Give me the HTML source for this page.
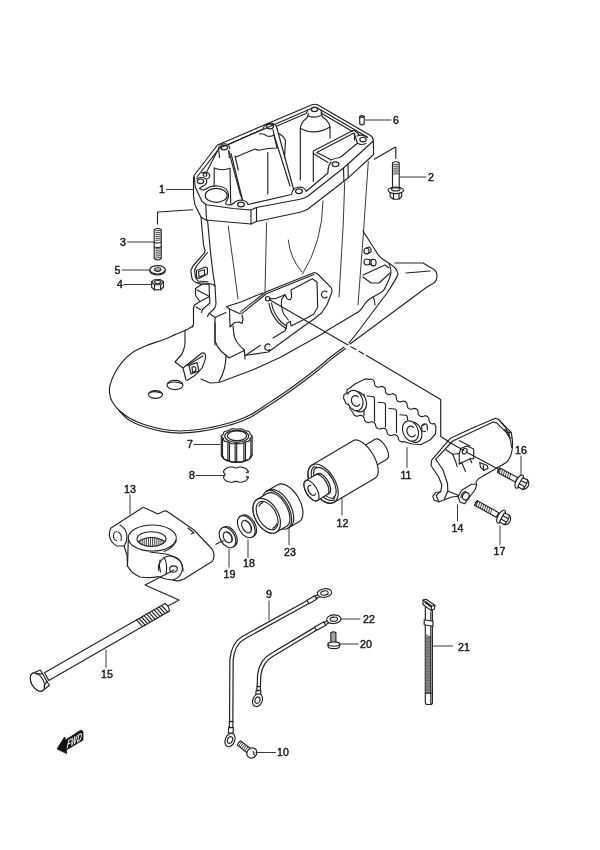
<!DOCTYPE html>
<html><head><meta charset="utf-8"><title>Drive Shaft Housing</title>
<style>
html,body{margin:0;padding:0;background:#fff}
svg{display:block;will-change:transform}
.l{fill:none;stroke:#222;stroke-width:1.15;stroke-linecap:round;stroke-linejoin:round}
.w{fill:#fff;stroke:#222;stroke-width:1.15;stroke-linecap:round;stroke-linejoin:round}
.t{stroke:#222;stroke-width:0.85;fill:none}
text{font-family:"Liberation Sans",sans-serif;font-size:10.6px;fill:#1a1a1a;text-anchor:middle;stroke:#1a1a1a;stroke-width:0.45px}
#labels path{stroke-width:0.9}
.c{stroke-width:0.9}
</style></head><body>
<svg width="600" height="850" viewBox="0 0 600 850">
<rect width="600" height="850" fill="#fff"/>
<g id="longleader">
<path class="l" d="M269.500,299.800 L348,345 M351,346.800 L356,349.600 M359,351.300 L363.500,353.900 M366.500,355.500 L440.700,399.400 V436.500 L447.500,440.800"/>
</g>
<g id="cables">
<path d="M308.0,602.0 L243.0,638.0 Q233.0,643.8 231.5,660.0 L231.2,722.0" fill="none" stroke="#222" stroke-width="4.5" stroke-linecap="butt" stroke-linejoin="round"/>
<path d="M308.0,602.0 L243.0,638.0 Q233.0,643.8 231.5,660.0 L231.2,722.0" fill="none" stroke="#fff" stroke-width="2.100" stroke-linecap="butt" stroke-linejoin="round"/>
<path class="w" d="M309.0,603.7 L317.0,599.0 L315.0,595.5 L307.0,600.3 Z"/>
<path class="w" d="M316.4,598.5 L320.6,596.1 L319.4,593.9 L315.1,596.2 Z"/>
<ellipse class="w" cx="324.5" cy="593.0" rx="7.2" ry="4.3" transform="rotate(-8 324.5 593.0)"/>
<ellipse class="l" cx="324.5" cy="593.0" rx="3.744" ry="2.15" transform="rotate(-8 324.5 593.0)"/>
<path class="w" d="M229.5,721.4 L229.2,727.4 L232.8,727.6 L233.0,721.6 Z"/>
<path class="w" d="M228.6,727.4 L228.4,732.9 L233.1,733.1 L233.4,727.6 Z"/>
<ellipse class="w" cx="230.0" cy="740.0" rx="4.7" ry="7" transform="rotate(22 230.0 740.0)"/>
<ellipse class="l" cx="230.0" cy="740.0" rx="2.444" ry="3.5" transform="rotate(22 230.0 740.0)"/>
<path d="M315.5,628.8 L271.8,655.0 Q261.0,661.2 259.2,675.0 L258.8,687.0" fill="none" stroke="#222" stroke-width="4.5" stroke-linecap="butt" stroke-linejoin="round"/>
<path d="M315.5,628.8 L271.8,655.0 Q261.0,661.2 259.2,675.0 L258.8,687.0" fill="none" stroke="#fff" stroke-width="2.100" stroke-linecap="butt" stroke-linejoin="round"/>
<path class="w" d="M316.5,630.5 L326.0,625.3 L324.0,621.7 L314.5,627.0 Z"/>
<path class="w" d="M325.4,624.8 L329.6,622.4 L328.4,620.1 L324.1,622.5 Z"/>
<ellipse class="w" cx="333.8" cy="619.2" rx="7.2" ry="4.3" transform="rotate(-5 333.8 619.2)"/>
<ellipse class="l" cx="333.8" cy="619.2" rx="3.744" ry="2.15" transform="rotate(-5 333.8 619.2)"/>
<path class="w" d="M257.0,686.4 L256.7,690.4 L260.3,690.6 L260.5,686.6 Z"/>
<path class="w" d="M256.1,690.4 L255.9,694.9 L260.6,695.1 L260.9,690.6 Z"/>
<ellipse class="w" cx="257.5" cy="700.2" rx="4.7" ry="6.6" transform="rotate(22 257.5 700.2)"/>
<ellipse class="l" cx="257.5" cy="700.2" rx="2.444" ry="3.3" transform="rotate(22 257.5 700.2)"/>
<path class="w" d="M330.800,643 V632.800 Q333.400,630.800 335.900,632.800 V643"/>
<path class="t" d="M331.200,634 H335.600 M331.200,636 H335.600 M331.200,638 H335.600 M331.200,640 H335.600"/>
<path class="w" d="M328,644 Q328,641.800 333.800,641.800 Q339.700,641.800 339.700,644 L339.700,646 Q339.700,648.600 333.800,648.600 Q328,648.600 328,646 Z"/>
<path class="l" d="M328,644 Q328,646.200 333.800,646.200 Q339.700,646.200 339.700,644"/>
<g transform="translate(251.2,752.5) rotate(38)">
<path class="w" d="M-15.500,-2.700 L-3,-2.700 L-3,2.700 L-15.500,2.700 Q-16.500,0 -15.500,-2.700 Z"/>
<path class="t" d="M-14,-2.700 V2.700 M-12,-2.700 V2.700 M-10,-2.700 V2.700 M-8,-2.700 V2.700 M-6,-2.700 V2.700"/>
<ellipse class="w" cx="0.800" cy="0" rx="4.800" ry="5.300"/>
<path class="l" d="M1,-2 L4,0"/>
</g>
</g>
<g id="flange">
<!-- outer top face -->
<path class="l" d="M194,175.5 L217.5,145 L312,104.8 Q315,103.6 318,104.9 L370.5,135.6 Q373.300,137.400 373.300,141 L348,164 L343.500,168 L308,196 Q304.5,198.2 300,199.3 L256.5,207.5 L251,210 L233,208.5 L206.500,204.800 L202,201.500 L195.200,187 L194.300,177 Z"/>
<!-- gasket line -->
<path class="l" d="M197,177 L219.5,148.2 L312.5,108 Q315,107 317.5,108 L367.5,137.3"/>
<!-- thickness -->
<path class="l" d="M373.300,141 L373.600,154.500 L348.200,177.800 L343.900,181.200 L308,209 Q304.5,211 300,212.3 L256.5,221.5 L251,224 L205.500,220 L201,217 L195,205 L193.500,196 L193.500,177"/>
<path class="l" d="M251,210 V224 M256.5,207.5 V221.5 M348,164 L348.200,177.800 M343.500,168 L343.900,181.200"/>
<path class="l" d="M205.800,205 L206.500,219.800"/>
<!-- holes -->
<g id="holes">
<ellipse class="l" cx="224.200" cy="147.500" rx="3.400" ry="2.300"/>
<ellipse class="l" cx="270" cy="126.5" rx="3.4" ry="2.4"/>
<ellipse class="l" cx="314.5" cy="109.3" rx="3.2" ry="2.3"/>
<ellipse class="l" cx="241" cy="204.5" rx="3.4" ry="2.4"/>
<ellipse class="l" cx="299" cy="191.2" rx="3.4" ry="2.4"/>
<ellipse class="l" cx="335.5" cy="164.3" rx="3.4" ry="2.4"/>
<ellipse class="l" cx="363" cy="139.5" rx="3.2" ry="2.3"/>
</g>
<!-- big hole -->
<ellipse class="l" cx="216.200" cy="195.400" rx="11" ry="7"/>
<!-- bosses around holes -->
<path class="l" d="M228.500,144.500 L263,129 Q264,124.500 270,123 Q276.500,123.300 277,128.500"/>
<path class="l" d="M277,126 L306,113.500 Q307.500,112 307.500,110 M321,110.500 Q321,113 323.500,114.500 L352.500,131.500"/>
<path class="l" d="M234,203 Q236.500,200 241.500,200 Q246.500,200.300 248,204.5 L291.500,194.500 Q292.500,187.500 299,187 Q305,187 306,191.500 L328,173 Q327.5,166.500 331,162"/>
<!-- interior of left chamber -->
<path class="l" d="M218.3,149.7 Q218.8,144.2 224.2,143.7 Q229.7,143.7 229.7,148.7"/>
<path class="l" d="M218.8,150.8 L219.5,157.5"/>
<path class="l" d="M228.8,150.8 L229.3,157.5"/>
<path class="l" d="M214.2,168.0 Q222.0,171.3 230.0,168.3"/>
<path class="l" d="M214.2,168.0 L214.2,186.3"/>
<path class="l" d="M230.0,168.7 L230.7,203.0"/>
<path class="l" d="M217.8,150.3 L207.0,171.3"/>
<ellipse class="l" cx="205.0" cy="174.7" rx="2" ry="1.500"/>
<ellipse class="l" cx="200.5" cy="181.3" rx="3.200" ry="2.300"/>
<path class="l" d="M201.7,173.0 Q207.5,170.8 209.7,174.7 Q210.3,177.5 207.5,178.7"/>
<path class="l" d="M196.7,178.7 Q201.7,176.3 205.8,178.7 Q208.3,182.0 204.7,185.3 Q201.7,186.3 199.7,188.3"/>
<path class="l" d="M199.7,188.3 Q201.500,191 205,189.500 Q210,186 216,185.800 Q224,186 227.500,191 Q230,197 226,202 Q224.500,204 228,205 Q232,205 234,203"/>
<path class="l" d="M228.7,150.8 L240.0,193.3 L242.7,200.3"/>
<path class="l" d="M231.0,153.3 L242.0,198.0"/>
<path class="l" d="M235.0,155.8 L238.3,170.0"/>
<path class="l" d="M236,157 L255,149 Q258,150.500 260,150 L268,148.500 L277,148 L274,135 L273,129.500"/>
<path class="l" d="M259.500,134 Q263,133 267,136 Q271,137 274,135"/>
<path class="l" d="M267.800,152.500 V194"/>
<path class="l" d="M277,128.500 L293.750,190 M274,135 L290,186 M278,133 Q285,137 285.500,141 L284.500,158"/>
<!-- centre cylinder -->
<path class="l" d="M300.300,180 V128.500 Q301,122 307,118 L308.500,113.500 M330,138 V127 Q329,121 322.500,117 L321,113"/>
<path class="l" d="M300.300,128.500 Q315,136 330,127"/>
<path class="l" d="M308.500,116 Q314.500,118.500 321,115.500"/>
<!-- rectangular pocket -->
<path class="l" d="M313.300,181.500 V151 L354,130 L359,134.500"/>
<path class="l" d="M316.700,152.500 L354,133 L357.500,143.300 L340,157.500 Q335,158 331,160 L328.300,158.300 Z"/>
<path class="l" d="M313.300,153.500 L328,162.500"/>
<path class="l" d="M357,136 Q362,134 367,137 M357.500,143.300 Q361,145.500 366,143.500"/>
<path class="l" d="M354.500,133.500 V140"/>
</g>
<g id="body">
<!-- left outer edge & bracket -->
<path class="l" d="M201,217 L203.500,245 L205,250.500 L204.400,253 L193,266 L190.800,270.500 L192,278.500 Q193,281.500 196,282.500 L209,283.500 L213,284.500 L215,286"/>
<path class="l" d="M207.500,252.500 L196.500,266 L194.500,270.500 L195.500,277.500 L198,281 L208,281.800"/>
<path class="l" d="M207.500,220 L210.600,253 L213.200,275 L215,286 L216,304 Q215.500,308 213,310 L209,313.500 L207.500,316.500"/>
<path class="l" d="M196.500,270.500 L205.300,267 L207.400,268 L207.400,274 L199,278.500 L196.500,277.600 Z M198.600,271.500 L204.400,269.700 L204.700,275 L199,276.800 Z"/>
<path class="l" d="M196,282.500 L201.500,284.500 L195.500,288.500 L195.500,295.500 L200,301.500 L194.500,305 L193.500,308 L193.500,324 L192.500,327"/>
<path class="l" d="M201.500,284.500 L209,284 L209.500,296.500 L210,303 L206.500,306 L202.500,309.500 L201.500,312.500"/>
<path class="l" d="M197,290 L209.500,296.500 L200,301.500"/>
<path class="l" d="M196,307 L200.500,309.500"/>
<path class="l" d="M209.500,313.500 L215,317.500 L226,312.500 M215,317.500 V345"/>
<!-- creases -->
<path class="l c" d="M228.200,226 L238,298.800"/>
<path class="l c" d="M266.600,223 L265,291.500"/>
<path class="l c" d="M288.300,240 Q290,258 301.700,271.700"/>
<path class="l c" d="M323,201 Q322.500,242 302.500,274"/>
<path class="l c" d="M344.700,182.500 L343.200,225 L339,297"/>
<path class="l c" d="M368.300,161.500 L363.500,232 L358,305"/>
</g>
<g id="window">
<!-- ledge -->
<path class="l" d="M226.500,306.500 L241,302 L255,296 L263,293"/>
<path class="l" d="M226.500,306.500 L229.500,309 L239.500,313.500 L241,313"/>
<path class="l" d="M229.500,309.500 L230,327 L233,324 L235,322.500 L239.500,322 L242,323.500 L243,319 L242,315"/>
<path class="l" d="M233,326 L234,335"/>
<!-- frame outer -->
<path class="l" d="M241,311.400 L265.700,292 L313.700,272.700 Q316,272.300 317.700,274 L331,287.300 Q332.500,290 331.700,292.700 L327,304.700 L321.700,312.700 L313.700,319.300 L305.700,324.700 L268.300,352 L245.700,355.300"/>
<path class="l" d="M242,313.400 L266.300,293.800 L313.900,274.500"/>
<!-- inner opening -->
<path class="l" d="M270,298.600 L275,298.700 L285,294.700 L287,298.700 L290,300 L291.700,297.300 L291,290 L312.300,278.700 L317,282 L317.700,307.300 L313.700,314 L308.300,317.300 L291,326 L290.300,321.300 L287,323.300 L286.300,327.300 L285,330.700 L273,338 M260.300,345.300 L245.700,355.300"/>
<path class="l" d="M327,292 A3.200,3.500 0 1 0 327,297"/>
<circle class="l" cx="267.700" cy="298.700" r="2.200"/>
<!-- curves inside -->
<path class="l" d="M269,303.300 Q270.500,314 279,323.300 L286.300,328.700"/>
<path class="l" d="M271.500,303 Q273,313 281,322 L286.500,326"/>
<path class="l" d="M285,294.700 L281.700,299.300 Q280.500,306 283.700,314 L288.300,320"/>
<!-- lower-left rounded body -->
<path class="l" d="M215,323 V341 Q217,347 221,351 L229,358 L244.300,350.500"/>
<path class="l" d="M234,335 Q235,342 244.300,350"/>
<path class="l" d="M244.300,349.500 L245,359"/>
<path class="l" d="M270,344.800 A3,3.300 0 1 0 270,349.500"/>
</g>
<g id="plateholes">
<ellipse class="l" cx="155.500" cy="394.500" rx="7" ry="3.900"/>
<ellipse class="l" cx="175" cy="385" rx="8" ry="4.700"/>
<path class="l" d="M149,393 Q155,390 162,393.300 M168,383.500 Q175,380.300 182.500,384"/>
</g>
<g id="lowerbody">
<!-- lower-left tab -->
<path class="l" d="M185,330 L185,344 Q184,350 182,354 L175,362 L183,368 L186,380"/>
<path class="l" d="M183,368 L202,353 Q204.500,352.500 205.500,355 Q206.500,358 202,368 Q199,372 194,376 L187,380.500"/>
<path class="l" d="M187.500,365.500 L203,355.700"/>
<path class="l" d="M189,365.500 L197,362.600 L199,371 L191,374 Z M192,367 Q196,365.800 196,369 Q196,372 192.500,372 M192,367 L192.500,372"/>
<!-- body bottom front edge -->
<path class="l" d="M201,379 L210,383 L219,382.500 L252.500,370 L280,357.500 L321.700,334.200 L327,330.500 L359,311.500 Q362,309 364,305 Q366.500,300.500 373,297 L381,292.500 Q384,291 385.500,287 Q391,276 391,272 Q391,267 389,264"/>
<path class="l" d="M226,355 Q226,370 219,381.500"/>
<!-- right fin -->
<path class="l" d="M363,231 L378,254.500 Q380,257.500 384,260 L391,264.500 Q397,268.500 398,274 Q397,278 387,293 L357,333 L349,343"/>
<path class="l" d="M395,263 L423,263 L434,269.500 Q437,271.500 437,276 Q437,281 433,283.500 L427,287 L350,344"/>
<path class="l" d="M406,273 L430,271"/>
<path class="l" d="M363,275 L385,265 L389,268"/>
<path class="l" d="M363,277 L371,283 L379,283 L390,273"/>
<path class="l" d="M373,297 Q375,300 375,305"/>
<!-- bolts on right side -->
<ellipse class="l" cx="366.500" cy="251" rx="2.500" ry="3"/>
<path class="l" d="M366.500,248 L369,247 Q371.500,248 371,252 L367,254"/>
<ellipse class="l" cx="367" cy="262" rx="3" ry="3"/>
<ellipse class="l" cx="373.500" cy="262.500" rx="2.600" ry="3.300"/>
<path class="l" d="M369.500,260 L373,259.300 M370,264.500 L373.500,265.800"/>
</g>
<g id="plate">
<path class="l" d="M193.0,326.0 C191.8,326.7 189.0,328.6 186.0,330.0 C183.0,331.4 178.9,332.9 175.0,334.6 C171.1,336.3 167.4,338.2 162.7,340.0 C158.0,341.8 151.6,343.5 146.7,345.5 C141.8,347.5 137.3,349.4 133.3,352.0 C129.3,354.6 125.8,357.8 122.7,361.3 C119.6,364.9 116.8,369.3 114.7,373.3 C112.6,377.3 110.8,382.0 110.0,385.3 C109.2,388.6 109.3,390.6 109.6,393.3 C109.9,396.0 110.5,398.5 112.0,401.3 C113.5,404.1 115.6,407.1 118.7,410.0 C121.8,412.9 126.0,416.1 130.7,418.7 C135.4,421.2 141.4,423.5 146.7,425.3 C152.0,427.1 157.1,428.4 162.7,429.3 C168.2,430.2 173.8,431.0 180.0,431.0 C186.2,431.0 193.8,430.1 200.0,429.3 C206.2,428.5 211.7,427.3 217.5,426.0 C223.3,424.7 229.6,423.1 235.0,421.3 C240.4,419.5 245.0,417.6 250.0,415.0 C255.0,412.4 258.3,409.9 265.0,405.5 C271.7,401.1 281.7,394.7 290.0,388.8 C298.3,382.8 308.3,375.2 315.0,370.0 C321.7,364.8 325.2,361.3 330.0,357.5 C334.8,353.7 341.7,348.8 344.0,347.0"/>
<path class="l" d="M119.0,410.6 C120.8,412.3 125.2,417.8 129.7,420.5 C134.2,423.3 140.6,425.5 146.0,427.3 C151.5,429.1 156.7,430.4 162.3,431.4 C168.0,432.3 173.7,433.1 180.0,433.1 C186.3,433.1 193.9,432.2 200.3,431.4 C206.6,430.5 212.1,429.4 218.0,428.0 C223.9,426.7 230.2,425.2 235.7,423.3 C241.2,421.4 245.9,419.5 251.0,416.9 C256.1,414.2 259.4,411.7 266.2,407.3 C272.9,402.9 282.9,396.4 291.2,390.5 C299.6,384.5 309.6,376.9 316.3,371.7 C323.0,366.4 326.5,363.0 331.3,359.1 C336.1,355.3 342.9,350.4 345.3,348.7"/>
</g>
<g id="labels">
<path class="l" d="M166.5 189.5L192.5 189.5"/>
<text x="162" y="193.2">1</text>
<path class="l" d="M400 177L426 177"/>
<text x="431" y="180.7">2</text>
<path class="l" d="M127.5 242L154.5 242"/>
<text x="123" y="245.7">3</text>
<path class="l" d="M124 284.5L151 284.5"/>
<text x="120" y="288.2">4</text>
<path class="l" d="M122 270L150 270"/>
<text x="117.5" y="273.7">5</text>
<path class="l" d="M365.5 120L391 120"/>
<text x="396" y="123.7">6</text>
<path class="l" d="M194 444.5L220 444.5"/>
<text x="190" y="448.2">7</text>
<path class="l" d="M196 475.5L224 475.5"/>
<text x="192" y="479.2">8</text>
<path class="l" d="M269 601L269 620"/>
<text x="269" y="598.2">9</text>
<path class="l" d="M256 752.5L275.5 752.5"/>
<text x="283" y="756.2">10</text>
<path class="l" d="M407 447.5L407 467.5"/>
<text x="406" y="478.7">11</text>
<path class="l" d="M342 497.5L342 515"/>
<text x="342.5" y="526.7">12</text>
<path class="l" d="M130 495L130 514"/>
<text x="130" y="493.2">13</text>
<path class="l" d="M457.5 505L457.5 521"/>
<text x="457.5" y="531.7">14</text>
<path class="l" d="M106 650L106 667.5"/>
<text x="107" y="678.2">15</text>
<path class="l" d="M521 456L521 475"/>
<text x="521" y="453.7">16</text>
<path class="l" d="M500 526L500 544.5"/>
<text x="499.5" y="554.7">17</text>
<path class="l" d="M248 540L248 557.5"/>
<text x="249" y="566.7">18</text>
<path class="l" d="M229 549L229 567"/>
<text x="229.5" y="577.7">19</text>
<path class="l" d="M340 644L358 644"/>
<text x="366" y="647.7">20</text>
<path class="l" d="M432.5 646L452.5 646"/>
<text x="464" y="650.7">21</text>
<path class="l" d="M341 619L360 619"/>
<text x="369" y="622.7">22</text>
<path class="l" d="M289 526L289 545"/>
<text x="290" y="555.7">23</text>
</g>
<g id="p11">
<path class="w" d="M347,390 L355,384 L363,380 Q367,378 369,379.500 L369.0,379.5 L370.6,379.1 L371.8,379.3 L372.8,379.8 L373.6,380.5 L374.2,381.5 L374.5,383.2 L374.7,384.8 L375.3,385.8 L376.1,386.6 L377.1,387.1 L378.3,387.3 L379.9,386.8 L381.5,386.4 L382.7,386.6 L383.7,387.1 L384.5,387.8 L385.2,388.8 L385.4,390.5 L385.6,392.2 L386.2,393.2 L387.0,393.9 L388.0,394.4 L389.2,394.6 L390.8,394.2 L392.4,393.7 L393.6,393.9 L394.6,394.4 L395.4,395.2 L396.1,396.2 L396.3,397.8 L396.5,399.5 L397.1,400.5 L398.0,401.2 L399.0,401.7 L400.1,401.9 L401.7,401.5 L403.4,401.1 L404.5,401.3 L405.5,401.8 L406.4,402.5 L407.0,403.5 L407.2,405.2 L407.4,406.8 L408.1,407.8 L408.9,408.6 L409.9,409.1 L411.1,409.3 L412.7,408.8 L414.3,408.4 L415.5,408.6 L416.5,409.1 L417.3,409.8 L417.9,410.8 L418.1,412.5 L418.3,414.2 L419.0,415.2 L419.8,415.9 L420.8,416.4 L422.0,416.6 L423.6,416.2 L425.2,415.7 L426.4,415.9 L427.4,416.4 L428.2,417.2 L428.8,418.2 L429.0,419.8 L429.3,421.5 L429.9,422.5 L430.7,423.2 L431.7,423.7 L432.9,423.9 L434.5,423.5 L436,427 L435.5,434 L430,440 L421,444.500 L412,444 L404,441.5 L404.0,441.5 L402.8,441.9 L401.9,441.9 L401.1,441.7 L400.3,441.4 L399.7,440.9 L399.1,440.3 L398.6,439.5 L398.3,438.3 L398.1,437.0 L397.6,436.3 L397.0,435.7 L396.3,435.2 L395.6,434.9 L394.8,434.7 L393.8,434.6 L392.7,435.1 L391.5,435.5 L390.6,435.5 L389.7,435.3 L389.0,434.9 L388.3,434.5 L387.7,433.8 L387.2,433.1 L387.0,431.8 L386.8,430.6 L386.3,429.8 L385.7,429.2 L385.0,428.7 L384.3,428.4 L383.4,428.2 L382.5,428.2 L381.3,428.6 L380.2,429.0 L379.2,429.0 L378.4,428.8 L377.7,428.5 L377.0,428.0 L376.4,427.4 L375.9,426.6 L375.7,425.4 L375.4,424.2 L374.9,423.4 L374.3,422.8 L373.7,422.3 L372.9,422.0 L372.1,421.8 L371.2,421.7 L370.0,422.2 L368.8,422.6 L367.9,422.6 L367.1,422.4 L366.3,422.0 L365.7,421.6 L365.1,421.0 L364.6,420.2 L364.3,418.9 L364.1,417.7 L363.6,416.9 L363.0,416.3 L362.3,415.9 L361.6,415.5 L360.8,415.3 L359.8,415.3 L358.7,415.7 L357.5,416.1 L356.6,416.1 L355.7,415.9 L355.0,415.6 L354.3,415.1 L353.7,414.5 L353.2,413.7 L353.0,412.5 L350,409 L349.500,405 L346,403 Z"/>
<path class="l" d="M367,396 L372.5,396.5 Q374.5,396.7 374.5,399 V421"/>
<path class="l" d="M378,402.3 L383.5,402.8 Q385.5,403 385.5,405.3 V427"/>
<path class="l" d="M389,408.5 L394.5,409 Q396.5,409.2 396.5,411.5 V432.5"/>
<path class="l" d="M400,414.7 L405.5,415.2 Q407.5,415.4 407.5,417.7 V420"/>
<path class="l" d="M364,394 V415.500"/>
<ellipse class="w" cx="358.3" cy="401.7" rx="7.800" ry="10.500" transform="rotate(-22 358.3 401.7)"/>
<ellipse class="w" cx="355" cy="400.5" rx="7.600" ry="10.500" transform="rotate(-22 355 400.5)"/>
<path class="l" d="M358.2,396.9 a4.300,5.500 -20 1 0 1.5,7.5"/>
<ellipse class="w" cx="413.8" cy="432.2" rx="7.800" ry="10.500" transform="rotate(-22 413.8 432.2)"/>
<ellipse class="w" cx="410.5" cy="431" rx="7.600" ry="10.500" transform="rotate(-22 410.5 431)"/>
<path class="l" d="M413.7,427.4 a4.300,5.500 -20 1 0 1.5,7.5"/>
<path class="w" d="M347.500,393 L344,394.500 L343.500,398 L346,403.500 L348.500,404.500"/>
<path class="l" d="M424.500,424.500 L421.500,426 L422,431 L425.500,431.500 M421.500,426 Q424,422.500 427,424.500 L427.500,430"/>
</g>
<g id="p12" transform="translate(323.1,483.7) rotate(-30.7)">
<!-- stub -->
<path class="w" d="M54,-11.600 L67.300,-11.600 A5.500,11.600 0 0 1 67.300,11.600 L54,11.600 Z"/>
<!-- main cylinder -->
<path class="w" d="M0,-21.700 L47.800,-21.700 A10,21.700 0 0 1 47.800,21.700 L0,21.700 A12,21.700 0 0 1 0,-21.700 Z"/>
<ellipse class="l" cx="0" cy="0" rx="12" ry="21.700"/>
<path class="l" d="M1.500,-19.500 A10,19.500 0 0 0 1.500,19.500 M3,-18 A9,18 0 0 0 3,18"/>
<path class="l" d="M2,-17 A8.500,17 0 0 1 2,17"/>
<!-- sleeve -->
<path class="w" d="M0,-11.500 L-13.500,-11.500 A5.500,11.500 0 0 0 -13.500,11.500 L0,11.500 A5.500,11.500 0 0 0 0,-11.500 Z"/>
<path class="l" d="M-2,-11.500 A5.500,11.500 0 0 1 -2,11.500"/>
<ellipse class="w" cx="-13.500" cy="0" rx="5.500" ry="11.500"/>
<path class="l" d="M-11.600,-4.500 A3,5.500 0 1 0 -11.600,4.500"/>
</g>
<g id="p13">
<path class="w" d="M111,528 L142,508 Q143.500,507 145,508 L158,514 L164,511 Q166,510.500 168,512 L194,530 L212,549 Q214.500,553 214,556 Q214,559.500 212,561.500 L184,579 Q178,582 172,580 L166,579 L158,576.500 Q152,578.500 140,577 Q131,573 127.500,566 L127,555 L124,546 L117,546 Q110,542 109.500,536 Q109,531 111,528 Z"/>
<path class="l" d="M120,525 Q126,528 127,536 Q127,542 124,546"/>
<path class="l" d="M118,532 Q122.500,534 121,540.500 M116.500,531.500 A3,4.500 0 0 0 116.500,540.500"/>
<ellipse class="l" cx="152.300" cy="538" rx="24" ry="13"/>
<ellipse class="l" cx="151.500" cy="539" rx="14.500" ry="7.300"/>
<path class="l" d="M138.500,541.500 Q151,533.500 165,541.500"/>
<path class="t" d="M140.0,540.1 V542.9 M142.1,539.1 V544.1 M144.2,538.3 V544.8 M146.3,537.7 V545.3 M148.4,537.2 V545.6 M150.5,537.0 V545.8 M152.6,537.0 V545.8 M154.7,537.2 V545.6 M156.8,537.6 V545.3 M158.9,538.2 V544.8 M161.0,539.0 V544.0 M163.1,539.9 V542.9 "/>
<path class="l" d="M128.300,540 L127.500,566"/>
<path class="l" d="M150,552 L166,554 Q176,557 180,561 Q183,565 183,571"/>
<path class="l" d="M176.300,541 Q172,549 164,551.500"/>
<path class="l" d="M158.700,570.500 A12,12 0 1 1 173,579.700"/>
<path class="l" d="M164,557.500 Q168,563 166,574 M160,560 Q158.500,566 160.500,572"/>
<ellipse class="l" cx="173.500" cy="569" rx="3.800" ry="3.200"/>
<path class="l" d="M188,528 L194,533 L191,534"/>
<path class="l" d="M174,570 L145,585 L179,600 L168,606"/>
</g>
<g id="p15">
<path class="w" d="M48.8,680.4 L169.5,611.1 Q169.0,606.3 165.1,603.5 L44.4,672.8 Z"/>
<path class="l" d="M142.6,626.6 L136.5,619.9 M145.1,625.1 L139.0,618.5 M147.6,623.7 L141.5,617.0 M150.2,622.2 L144.0,615.6 M152.7,620.8 L146.6,614.1 M155.2,619.3 L149.1,612.7 M157.7,617.9 L151.6,611.3 M160.2,616.4 L154.1,609.8 M162.7,615.0 L156.6,608.4 M165.2,613.6 L159.1,606.9 M167.8,612.1 L161.6,605.5 "/>
<g transform="translate(39.2,681) rotate(-29.9)">
<path class="w" d="M-2,-10 L6.500,-9 L6.500,9 L-2,10 A6,10 0 0 1 -2,-10 Z"/>
<ellipse class="w" cx="-2" cy="0" rx="6" ry="10"/>
<path class="l" d="M0.500,-8 L6.500,-4.500 M1.500,7 L6.500,4"/>
</g>
</g>
<g id="p14">
<path class="w" d="M431.7,460.2 L450.5,438.2 L473.0,427.7 L495.5,418.2 L498.5,419.3 L511.2,432.5 L512.4,440.0 Q513.5,455.0 506.7,462.2 L498.5,467.0 L478.2,479.0 L476.0,482.0 L476.7,485.0 L475.2,489.5 L468.5,498.5 L464.7,503.7 L460.2,502.2 L458.0,496.2 L452.0,497.0 L444.2,499.7 L438.8,501.8 L434.0,500.0 L432.8,496.2 L435.8,492.5 L440.7,491.7 L441.9,485.0 L438.5,476.7 L431.0,465.5 Z"/>
<path class="l" d="M435.8,459.2 L452.7,441.0 L473.0,431.4 L493.2,422.0 L496.7,422.9 L506.7,432.8"/>
<path class="l" d="M435.8,459.2 L443.0,470.0 L447.5,483.5 L447.8,491.0 L444.2,499.7"/>
<path class="l" d="M440.7,491.7 L438.8,492.8 L436.2,495.5 L438.8,501.8"/>
<path class="l" d="M447.8,491.0 L458.7,495.5 L461.7,490.2 L471.5,484.2 L475.2,484.2"/>
<path class="l" d="M458.7,495.5 L458.0,496.2"/>
<ellipse class="l" cx="465.8" cy="496.2" rx="3.100" ry="3.900" transform="rotate(30 465.8 496.2)"/>
<path class="l" d="M461.0,497.7 a4.500,5.500 30 0 1 4.800,-6.500"/>
<path class="l" d="M504.5,429.5 L509.0,432.5 L511.2,432.5"/>
<path class="l" d="M506.7,433.2 L509.7,437.7 L512.0,437.7"/>
<path class="l" d="M507.8,432.2 L509.3,434.0 L509.0,435.8"/>
<ellipse class="l" cx="464.7" cy="451.2" rx="2.200" ry="3" transform="rotate(25 464.7 451.2)"/>
<path class="l" d="M459.2,453.5 L461.0,448.2 L467.0,446.0 L473.7,449.0 L473.7,453.5"/>
<path class="l" d="M446.0,449.7 L452.7,454.2 L459.2,453.5 L459.2,464.0 L461.7,462.5 L465.5,471.5"/>
<path class="l" d="M452.7,454.2 L455.7,461.7 L457.2,466.7"/>
<path class="l" d="M459.2,464.0 L470.0,458.7 L473.7,458.7 L473.7,453.5"/>
<path class="l" d="M470.0,458.7 L471.8,462.8"/>
<path class="l" d="M479.7,462.5 L487.2,465.5 L488.0,468.5 L483.8,470.3 L480.5,467.0 L479.7,462.5"/>
<path class="l" d="M483.8,470.3 L483.2,465.2"/>
<path class="l" d="M459.5,440.7 L470.0,446.0"/>
<path class="l" d="M447,441 L464,450.500"/>
<path class="l" d="M466.2,452.0 L498.5,469.2"/>
<path class="l" d="M498.5,419.3 L506.0,428.0 L510.5,440.0 L511.7,447.5"/>
</g>
<g>
<path class="w" d="M497.6,472.6 L515.3,482.1 L517.7,477.5 L500.0,468.0 Z"/>
<path class="l" d="M497.6,472.6 Q497.5,469.6 500.0,468.0"/>
<path class="t" d="M499.2,473.4 L500.6,468.3 M501.2,474.5 L502.6,469.4 M503.2,475.6 L504.6,470.5 M505.2,476.7 L506.6,471.6 M507.3,477.8 L508.7,472.6 M509.3,478.9 L510.7,473.7 "/>
<g transform="translate(521.5,482.8) rotate(28.2)">
<ellipse class="w" cx="-2.5" cy="0" rx="3.2" ry="7.2"/>
<path class="w" d="M-1.5,-5 L3.5,-5.5 Q7.5,-4 7.5,0 Q7.5,4 3.5,5.5 L-1.5,5 Z"/>
<path class="l" d="M-1,-1.800 L4,-2 M-1,2 L4,2 M4,-5.400 Q6,0 4,5.400"/>
</g></g>
<g>
<path class="w" d="M474.7,505.3 L496.2,517.3 L498.8,512.7 L477.3,500.7 Z"/>
<path class="l" d="M474.7,505.3 Q474.7,502.3 477.3,500.7"/>
<path class="t" d="M476.3,506.1 L477.8,501.0 M478.3,507.3 L479.8,502.1 M480.3,508.4 L481.8,503.3 M482.3,509.5 L483.8,504.4 M484.3,510.6 L485.8,505.5 M486.3,511.8 L487.8,506.6 M488.4,512.9 L489.8,507.7 M490.4,514.0 L491.8,508.9 "/>
<g transform="translate(503.3,518.0) rotate(29.2)">
<ellipse class="w" cx="-2.5" cy="0" rx="3.2" ry="7.2"/>
<path class="w" d="M-1.5,-5 L3.5,-5.5 Q7.5,-4 7.5,0 Q7.5,4 3.5,5.5 L-1.5,5 Z"/>
<path class="l" d="M-1,-1.800 L4,-2 M-1,2 L4,2 M4,-5.400 Q6,0 4,5.400"/>
</g></g>
<g id="p23" transform="translate(266.7,515.8) rotate(-30)">
<!-- flange -->
<path class="w" d="M12,-21.300 L25,-21.300 A11.500,21.300 0 0 1 25,21.300 L12,21.300 A11.500,21.300 0 0 1 12,-21.300 Z"/>
<path class="l" d="M12,-21.300 A11.500,21.300 0 0 1 12,21.300"/>
<path class="l" d="M15.500,-21.200 A11.500,21.300 0 0 1 15.500,21.200"/>
<!-- sleeve -->
<path class="w" d="M0,-19 L12,-19 A10,19 0 0 1 12,19 L0,19 A11.500,19 0 0 1 0,-19 Z"/>
<ellipse class="w" cx="0" cy="0" rx="11.500" ry="19"/>
<ellipse class="l" cx="0.500" cy="0" rx="9" ry="15.500"/>
<path class="l" d="M3,-13.500 A8.500,14.500 0 0 0 -2,-12 M4.500,12 A8.500,14.500 0 0 1 -1,13.800"/>
</g>
<g id="p18" transform="translate(246.3,526.7) rotate(-30)">
<ellipse class="w" cx="1.600" cy="0" rx="7.500" ry="12"/>
<ellipse class="w" cx="0" cy="0" rx="7.500" ry="12"/>
<ellipse class="l" cx="0.300" cy="0" rx="4.200" ry="6.800"/>
<path class="l" d="M2.500,-5.500 A4.200,6.800 0 0 1 2.500,5.500"/>
</g>
<g id="p19" transform="translate(227.5,537.5) rotate(-30)">
<ellipse class="w" cx="1.600" cy="0" rx="7.300" ry="11"/>
<ellipse class="w" cx="0" cy="0" rx="7.300" ry="11"/>
<ellipse class="l" cx="0.300" cy="0" rx="4" ry="5.800"/>
<path class="l" d="M2.300,-4.800 A4,5.800 0 0 1 2.300,4.800"/>
</g>
<path class="l" d="M215.800,544.200 L223.300,540.800"/>
<g id="p7">
<path class="w" d="M221.3,436.3 L221.3,454.6 A15.4,7.8 0 0 0 252.1,454.6 L252.1,436.3"/>
<path class="w" d="M252.1,436.3 L251.7,437.1 L250.8,437.8 L250.1,438.5 L249.9,439.3 L249.7,440.1 L249.2,440.9 L247.9,441.4 L246.3,441.7 L245.0,442.1 L243.9,442.6 L242.8,443.3 L241.5,443.7 L239.8,443.8 L238.2,443.6 L236.7,443.4 L235.2,443.6 L233.6,443.8 L231.9,443.7 L230.6,443.3 L229.5,442.6 L228.4,442.1 L227.1,441.7 L225.5,441.4 L224.2,440.9 L223.7,440.1 L223.5,439.3 L223.3,438.5 L222.6,437.8 L221.7,437.1 L221.3,436.3 L221.7,435.5 L222.6,434.8 L223.3,434.1 L223.5,433.3 L223.7,432.5 L224.2,431.7 L225.5,431.2 L227.1,430.9 L228.4,430.5 L229.5,430.0 L230.6,429.3 L231.9,428.9 L233.6,428.8 L235.2,429.0 L236.7,429.2 L238.2,429.0 L239.8,428.8 L241.5,428.9 L242.8,429.3 L243.9,430.0 L245.0,430.5 L246.3,430.9 L247.9,431.2 L249.2,431.7 L249.7,432.5 L249.9,433.3 L250.1,434.1 L250.8,434.8 L251.7,435.5 L252.1,436.3 Z"/>
<ellipse class="l" cx="236.7" cy="436.3" rx="12" ry="6"/>
<ellipse class="l" cx="237" cy="435.8" rx="9.6" ry="4.900"/>
<path class="l" d="M250.9,438.6 V456.9 M245.5,442.4 V460.7 M243.9,443.0 V460.7 M236.7,443.9 V462.2 M235.1,444.5 V462.2 M227.9,442.4 V460.7 M229.5,443.0 V460.7 M222.5,438.6 V456.9 "/>
<path class="l" d="M252.1,454.6 L251.7,455.4 L250.8,456.1 L250.1,456.8 L249.9,457.6 L249.7,458.4 L249.2,459.2 L247.9,459.7 L246.3,460.0 L245.0,460.4 L243.9,460.9 L242.8,461.6 L241.5,462.0 L239.8,462.1 L238.2,461.9 L236.7,461.7 L235.2,461.9 L233.6,462.1 L231.9,462.0 L230.6,461.6 L229.5,460.9 L228.4,460.4 L227.1,460.0 L225.5,459.7 L224.2,459.2 L223.7,458.4 L223.5,457.6 L223.3,456.8 L222.6,456.1 L221.7,455.4 L221.3,454.6"/>
<path class="l" d="M248.3,477.1 L248.1,477.7 L247.9,478.3 L247.5,478.8 L247.1,479.4 L246.7,479.9 L246.1,480.4 L245.4,480.8 L244.7,481.2 L243.9,481.5 L243.0,481.8 L242.1,482.0 L241.2,482.2 L240.2,482.2 L239.3,482.2 L238.3,481.9 L237.4,481.6 L236.6,481.4 L235.8,481.2 L235.0,481.4 L234.2,481.6 L233.3,481.9 L232.3,482.2 L231.4,482.2 L230.4,482.2 L229.5,482.0 L228.6,481.8 L227.7,481.5 L226.9,481.2 L226.2,480.8 L225.5,480.4 L224.9,479.9 L224.5,479.4 L224.1,478.8 L223.8,478.3 L223.6,477.7 L223.6,477.1 L223.8,476.5 L224.3,475.9 L224.8,475.3 L225.1,474.8 L225.1,474.4 L224.8,473.9 L224.3,473.3 L223.8,472.7 L223.6,472.1 L223.6,471.5 L223.8,470.9 L224.1,470.4 L224.5,469.8 L224.9,469.3 L225.5,468.8 L226.2,468.4 L226.9,468.0 L227.7,467.7 L228.6,467.4 L229.5,467.2 L230.4,467.0 L231.4,467.0 L232.3,467.0 L233.3,467.3 L234.2,467.6 L235.0,467.8 L235.8,468.0 L236.6,467.8 L237.4,467.6 L238.3,467.3 L239.3,467.0 L240.2,467.0 L241.2,467.0 L242.1,467.2 L243.0,467.4 L243.9,467.7 L244.7,468.0 L245.4,468.4 L246.1,468.8 L246.7,469.3 L247.1,469.8 L247.5,470.4 L247.9,470.9 L248.1,471.5 L248.3,472.1"/>
<path class="l" d="M246.3,476.6 l2.300,0.800 M246.3,472.6 l2.300,-0.800"/>
</g>
<g id="small">
<path class="l" d="M192.5,209.7 L157.5,212 L157.5,224"/>
<path class="w" d="M154.2,229.8 Q157.7,226.8 161.2,229.8 L161.2,258.5 Q157.7,261.5 154.2,258.5 Z"/>
<path class="t" d="M155.4,230.9 L160.6,230.4 M155.4,232.8 L160.6,232.3 M155.4,234.7 L160.6,234.2 M155.4,236.6 L160.6,236.1 M155.4,238.5 L160.6,238 M155.4,240.4 L160.6,239.9 M155.4,248.5 L160.6,248 M155.4,250.4 L160.6,249.9 M155.4,252.3 L160.6,251.8 M155.4,254.2 L160.6,253.7 M155.4,256.1 L160.6,255.6 M155.4,258 L160.6,257.5 "/>
<path class="l" d="M154.2,242.5 Q157.7,243.6 161.2,242.3 M154.2,247 Q157.7,248 161.2,246.8"/>
<ellipse class="w" cx="157.5" cy="270.8" rx="7.7" ry="4.2"/>
<ellipse class="w" cx="157.5" cy="269.8" rx="7.7" ry="4.2"/>
<ellipse class="l" cx="157.7" cy="269.5" rx="3.1" ry="1.8"/>
<path class="t" d="M155,270.5 Q157.7,269 160.5,270.5"/>
<path class="w" d="M151.6,282 L154,279.8 L160,279.6 L163.4,281.7 L163.5,287 L160.5,289.8 L154.5,289.9 L151.7,287.5 Z"/>
<path class="l" d="M151.6,282 L154.5,284.8 L160.8,284.6 L163.4,281.7 M154.5,284.8 L154.5,289.9 M160.8,284.6 L160.5,289.8"/>
<ellipse class="l" cx="157.600" cy="282.100" rx="3" ry="1.600"/>
<path class="w" d="M359.7,116.5 Q361.9,114.6 364.2,116.5 L364.2,124 Q361.9,125.8 359.7,124 Z"/>
<path class="l" d="M359.7,116.5 Q361.9,118.2 364.2,116.5"/>
<path class="l" d="M374.2,159.2 L395,147.2 L395.8,147.2 L395.8,158.3"/>
<path class="w" d="M392.5,188 L392.5,163 Q395.85,160.500 399.2,163 L399.2,188"/>
<path class="t" d="M393.3,164.6 L398.6,164.2 M393.3,166.5 L398.6,166.1 M393.3,168.4 L398.6,168 M393.3,170.3 L398.6,169.9 M393.3,172.2 L398.6,171.8 M393.3,174.1 L398.6,173.7 "/>
<ellipse class="w" cx="395.800" cy="190.300" rx="7.800" ry="3.300"/>
<ellipse class="l" cx="395.800" cy="189.300" rx="4.300" ry="1.700"/>
<path class="l" d="M390,192.800 L390.3,196.800 L393.5,199.300 L399,199.200 L401.700,196.500 L401.700,192.800 M393.500,193.600 V199.300 M399,193.500 V199.200"/>
</g>
<g id="p21">
<path class="w" d="M425.3,606.8 V702 Q425.3,704.5 427.3,704.5 L430.5,704.5 Q432.4,704.5 432.4,702.500 V609"/>
<path d="M425.800,633.600 L430.800,636.500 V693.200 H425.800 Z" fill="#9a9a9a"/>
<path class="t" d="M425.800,637.0 H430.800 M425.800,638.5 H430.800 M425.800,640.0 H430.800 M425.800,641.5 H430.800 M425.800,643.0 H430.800 M425.800,644.5 H430.800 M425.800,646.0 H430.800 M425.800,647.5 H430.800 M425.800,649.0 H430.800 M425.800,650.5 H430.800 M425.800,652.0 H430.800 M425.800,653.5 H430.800 M425.800,655.0 H430.800 M425.800,656.5 H430.800 M425.800,658.0 H430.800 M425.800,659.5 H430.800 M425.800,661.0 H430.800 M425.800,662.5 H430.800 M425.800,664.0 H430.800 M425.800,665.5 H430.800 M425.800,667.0 H430.800 M425.800,668.5 H430.800 M425.800,670.0 H430.800 M425.800,671.5 H430.800 M425.800,673.0 H430.800 M425.800,674.5 H430.800 M425.800,676.0 H430.800 M425.800,677.5 H430.800 M425.800,679.0 H430.800 M425.800,680.5 H430.800 M425.800,682.0 H430.800 M425.800,683.5 H430.800 M425.800,685.0 H430.800 M425.800,686.5 H430.800 M425.800,688.0 H430.800 M425.800,689.5 H430.800 M425.800,691.0 H430.800 M425.800,692.5 H430.800 " style="stroke-width:0.55;stroke:#444"/>
<path class="l" d="M425.300,693.200 H432.400 M430.800,612 V704"/>
<path class="w" d="M424.200,619.800 L433,621.300 L433,626.200 L424.200,624.700 Z"/>
<path class="w" d="M423,600 L426,599.200 L434.900,605.300 L434.400,609.100 L431.300,610.600 L423,604.500 Z"/>
<path class="l" d="M423,600 L431.500,606.300 L434.900,605.300 M431.500,606.300 L431.300,610.600"/>
<path class="l" d="M425.300,602.800 L430.800,606.800 L431.200,605.800 L426,602 Z"/>
</g>
<g id="fwd">
<path class="" d="M57,749 L64.500,737 L65.600,740 L81,730 L83,731.500 L83,740 L66.300,750 L66.700,753.600 Z" fill="#111" stroke="#111" stroke-width="0.8" stroke-linejoin="round"/>
<text transform="matrix(0.86,-0.5,-0.12,1,66.6,748.6) scale(0.66,1)" x="0" y="0" style="font-size:11.5px;font-weight:bold;font-style:italic;fill:#fff;text-anchor:start;stroke:none">FWD</text>
</g>
</svg>
</body></html>
